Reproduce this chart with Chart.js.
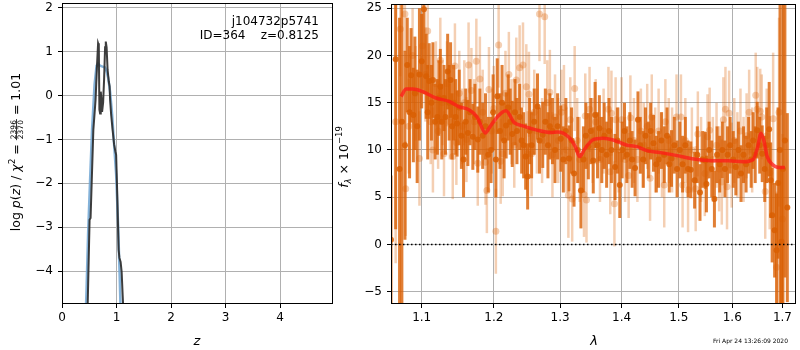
<!DOCTYPE html>
<html>
<head>
<meta charset="utf-8">
<script src="https://cdn.jsdelivr.net/npm/chart.js@4.4.0/dist/chart.umd.min.js"></script>
<style>
  body { margin: 0; background: #fff; }
  #wrap { position: relative; width: 800px; height: 350px; }
  #pz { position: absolute; left: 0; top: 0; }
  #sp { position: absolute; left: 330px; top: 0; }
</style>
</head>
<body>
<div id="wrap">
  <canvas id="pz" width="340" height="350"></canvas>
  <canvas id="sp" width="470" height="350"></canvas>
</div>
<script>
// ---- data ----
// left panel: log p(z)
const zTicks = [0, 1, 2, 3, 4];
const lnpTicks = [-4, -3, -2, -1, 0, 1, 2];

const pzSmoothZ   = [0.432, 0.45, 0.478, 0.515, 0.551, 0.597, 0.634, 0.662, 0.699, 0.744, 0.79, 0.818, 0.846, 0.882, 0.919, 0.956, 0.993, 1.029, 1.057, 1.075];
const pzSmoothVal = [-5.11, -4.43, -3.17, -1.92, -0.78, 0.25, 0.68, 0.73, 0.68, 0.66, 0.64, 0.55, 0.41, 0.09, -0.43, -1.12, -1.80, -2.95, -4.09, -4.89];

const pzChi2Z   = [0.469, 0.506, 0.524, 0.575, 0.616, 0.643, 0.662, 0.675, 0.686, 0.699, 0.711, 0.723, 0.735, 0.754, 0.772, 0.79, 0.803, 0.818, 0.836, 0.858, 0.873, 0.882, 0.901, 0.928, 0.956, 0.98, 0.993, 1.011, 1.039, 1.053, 1.075, 1.094, 1.112, 1.13];
const pzChi2Val = [-4.89, -2.83, -2.79, -0.78, -0.09, 0.71, 1.19, 1.14, -0.32, -0.41, 0.09, -0.09, -0.37, -0.16, 0.37, 1.10, 1.23, 1.10, 0.59, 0.32, 0.21, -0.09, -0.43, -0.78, -1.12, -1.28, -1.35, -2.15, -3.52, -3.70, -3.79, -4.02, -4.54, -5.0];

// right panel: spectrum, [lambda, flux, err]
const lamTicks = [1.1, 1.2, 1.3, 1.4, 1.5, 1.6, 1.7];
const fluxTicks = [-5, 0, 5, 10, 15, 20, 25];

const darkSpec = [
  [1.060,0.5,6.8],[1.066,19.6,18],[1.071,8,16],[1.074,13,20],[1.078,10.5,10],[1.081,19,5],[1.084,14,7],
  [1.086,17.9,5],[1.089,13.7,5],[1.091,16,6],[1.094,12.5,6],[1.097,18,7],[1.100,19.4,5],[1.103,24.9,9],
  [1.106,17.8,4.5],[1.108,14,5],[1.110,17.3,4],[1.113,15,4],[1.115,17.4,4],[1.118,13,4],[1.121,13.5,4],
  [1.123,15.5,4],[1.125,16.7,4],[1.127,13,4],[1.130,15.5,3.5],[1.132,13.5,4],[1.135,18.3,4],[1.137,15,4],
  [1.139,17.4,4],[1.141,12.5,3.5],[1.143,15,4],[1.146,13.5,4],[1.148,12.8,3.5],[1.151,14.5,4],[1.154,11.5,3.5],
  [1.157,9,4],[1.160,13,3.5],[1.163,11.8,3.5],[1.166,14,3.5],[1.170,11.4,3.5],[1.173,13.5,3.5],[1.177,11.1,3.5],
  [1.180,13,3.5],[1.184,11.5,3.5],[1.188,12.5,3.5],[1.192,9.5,4],[1.196,10,3.5],[1.199,14,4],[1.203,9,4],
  [1.205,15.7,4],[1.209,12,4],[1.212,15,4],[1.215,11,4],[1.218,12.6,3.5],[1.221,14.5,3.5],[1.224,13,3.5],
  [1.227,11.7,3.5],[1.231,14,3.5],[1.234,12,3.5],[1.238,13.5,3.5],[1.241,11,3.5],[1.244,10.5,3.5],[1.247,9.3,3.5],
  [1.250,7.2,3.5],[1.253,12,3.5],[1.256,10.5,3.5],[1.260,13,3.5],[1.265,14.6,3.5],[1.268,11,3.5],[1.273,11.6,3.5],
  [1.277,13,3.5],[1.281,10.5,3.5],[1.284,12.5,3.5],[1.288,12,3.5],[1.292,10,3.5],[1.296,12.5,3.5],[1.301,11.2,3.5],
  [1.305,9,3.5],[1.309,12,3.5],[1.314,9.1,3.5],[1.318,11,3.5],[1.322,7.5,3.5],[1.328,10,3.5],[1.333,5.7,4],
  [1.337,9,3.5],[1.341,11.5,3.5],[1.345,10.4,3.5],[1.349,12,3.5],[1.353,8.9,3.5],[1.356,13.7,3.5],[1.360,10.5,3.5],
  [1.363,12.3,3.5],[1.367,10,3.5],[1.371,11.5,3.5],[1.375,9.5,3.5],[1.379,12,3.5],[1.383,10,3.5],[1.389,8.2,3.5],
  [1.393,11,3.5],[1.397,6.3,3.5],[1.401,10,3],[1.405,12,3],[1.409,9.5,3],[1.414,11,3],[1.418,9,3],
  [1.423,8.1,3],[1.428,13.2,3],[1.432,10.5,3],[1.437,9,3],[1.441,11.5,3],[1.446,10,3],[1.450,12,3],
  [1.455,10.7,3],[1.460,8.5,3],[1.464,9,3],[1.469,11,3],[1.474,9.5,3],[1.479,11.5,3],[1.483,8.5,3],
  [1.487,9.1,3],[1.492,10.5,3],[1.497,8,3],[1.502,10,3],[1.507,8.5,3],[1.512,10.5,3],[1.517,8,3],
  [1.522,7.9,3],[1.529,6.8,3],[1.534,9.5,3],[1.539,5.5,3],[1.544,9,3],[1.549,8.9,3],[1.551,6.4,3],
  [1.556,10,3],[1.561,8,3],[1.566,4.8,3],[1.571,9.5,3],[1.576,8.5,3],[1.581,10,3],[1.586,8,3],
  [1.591,9.5,3],[1.596,10.5,3],[1.602,9,3],[1.607,8.2,3],[1.612,10,3],[1.617,7.5,3],[1.622,9.5,3],
  [1.627,8.5,3],[1.632,10.5,3],[1.637,9,3],[1.641,11,3],[1.645,9.5,3],[1.649,12.1,3],[1.654,10.5,3],
  [1.659,9.6,3],[1.664,8,3.5],[1.668,10.5,4],[1.673,12.2,5],[1.676,6.8,4],[1.679,3.1,5],[1.684,1.5,5],
  [1.688,-0.6,6],[1.691,6.5,8],[1.695,10,20],[1.698,0.3,8],[1.701,8,25],[1.705,11,14.5],[1.710,3.9,10]
];

const lightSpec = [
  [1.066,13,15],[1.072,22.8,5],[1.078,24.4,4],[1.079,5.9,5],[1.083,12.5,5],[1.088,20,5],[1.092,16,5],
  [1.097,9.1,5],[1.101,21,4.5],[1.105,18,5],[1.108,22.6,4],[1.112,13,4.5],[1.115,10,4.5],[1.119,17,4.5],
  [1.122,12,4],[1.125,19.5,4.5],[1.128,15,4.5],[1.130,9.6,4.5],[1.134,17,4.5],[1.138,13,4],[1.142,9.3,4.5],
  [1.145,18.9,4.5],[1.147,10.8,4.5],[1.151,16,4.5],[1.155,12.5,4],[1.158,15,4.5],[1.161,11.1,4.5],[1.164,19,4.5],
  [1.168,16.3,4.5],[1.172,13,4.5],[1.175,19.4,4.5],[1.177,8.6,4.5],[1.180,17.5,4.5],[1.184,14,4.5],[1.188,8.7,4.5],
  [1.190,5.7,4.5],[1.193,16.4,4.5],[1.197,12,4.5],[1.200,14.4,4.5],[1.203,1.4,4.5],[1.207,21.1,4.5],[1.210,8.8,4.5],
  [1.213,9.6,4.5],[1.217,16,4.5],[1.222,18,4.5],[1.226,13,4.5],[1.230,10.5,4.5],[1.233,17.4,4.5],[1.238,18.7,4.5],
  [1.243,19,4.5],[1.248,16.7,4.5],[1.250,9.6,4.5],[1.252,15.9,4.5],[1.256,9.6,4.5],[1.260,14,4.5],[1.264,12,4.5],
  [1.268,24.4,5],[1.272,11,4.5],[1.276,24.1,5],[1.280,15,4.5],[1.284,16.1,4.5],[1.288,9.5,4.5],[1.292,13.5,4.5],
  [1.297,11,4.5],[1.302,14,4.5],[1.306,14.5,4.5],[1.310,10,4.5],[1.313,5.2,4.5],[1.316,13.2,4.5],[1.319,4.8,4.5],
  [1.323,16.5,4.5],[1.327,11,4.5],[1.331,9,4.5],[1.338,5.3,4.5],[1.340,13.6,4.5],[1.342,4.7,4.5],[1.347,14.3,4.5],
  [1.352,11,4.5],[1.357,13,4.5],[1.364,9,4.5],[1.370,12,4.5],[1.378,14.3,4.5],[1.381,7.7,4.5],[1.383,13.9,4.5],
  [1.388,4.3,4.5],[1.390,13.2,4.5],[1.395,10,4.5],[1.400,13.2,4.5],[1.406,9,4.5],[1.412,7.3,4.5],[1.415,13.4,4.5],
  [1.421,11,4.5],[1.427,9,4.5],[1.433,12,4.5],[1.438,10.5,4.5],[1.444,12.5,4.5],[1.449,7,4.5],[1.452,13.5,4.5],
  [1.458,10,4.5],[1.464,12,4.5],[1.470,9.5,4.5],[1.474,6.3,4.5],[1.476,13,4.5],[1.482,11,4.5],[1.488,10,4.5],
  [1.496,13.5,4.5],[1.504,13.5,4.5],[1.507,6.3,4.5],[1.512,11,4.5],[1.517,5.8,4.5],[1.524,10,4.5],[1.531,5.9,4.5],
  [1.535,11.7,4.5],[1.541,9,4.5],[1.548,7.5,4.5],[1.553,11.4,4.5],[1.557,12.1,4.5],[1.563,9,4.5],[1.570,10.5,4.5],
  [1.575,8,4.5],[1.580,6.6,4.5],[1.583,13.2,4.5],[1.587,14.3,4.5],[1.590,6.1,4.5],[1.594,13.9,4.5],[1.599,8.4,4.5],
  [1.604,11,4.5],[1.610,9.5,4.5],[1.616,12,4.5],[1.622,9,4.5],[1.628,11.5,4.5],[1.633,14,4.5],[1.639,10,4.5],
  [1.646,15.8,4.5],[1.649,14.3,4.5],[1.655,14.1,4.5],[1.658,13.5,4.5],[1.665,5.6,5],[1.668,11.5,5],[1.674,7.6,6],
  [1.681,13.3,7],[1.688,-2.4,8],[1.693,14,10],[1.700,2.7,9]
];

const modelLam  = [1.073, 1.0796, 1.088, 1.1006, 1.119, 1.137, 1.150, 1.1645, 1.176, 1.188, 1.193, 1.205, 1.2176, 1.230, 1.243, 1.264, 1.286, 1.296, 1.313, 1.324, 1.331, 1.338, 1.352, 1.369, 1.386, 1.408, 1.426, 1.4435, 1.467, 1.497, 1.528, 1.560, 1.592, 1.621, 1.641, 1.650, 1.6565, 1.662, 1.669, 1.679, 1.693, 1.705];
const modelFlux = [15.67, 16.45, 16.45, 16.2, 15.5, 15.14, 14.6, 14.26, 13.5, 11.8, 12.3, 13.5, 14.15, 12.9, 12.55, 12.1, 11.84, 11.9, 11.4, 10.35, 9.3, 10.0, 11.06, 11.24, 11.06, 10.53, 10.35, 9.93, 9.72, 9.4, 9.04, 8.86, 8.86, 8.76, 9.0, 10.35, 11.78, 11.06, 9.3, 8.5, 8.15, 8.15];

const zeroLam = [1.06, 1.728];
const zeroFlux = [0, 0];

// ---- helpers ----
const FONT = "'DejaVu Sans'";
Chart.defaults.font.family = FONT;
Chart.defaults.font.size = 12;
Chart.defaults.color = '#000';

const minus = v => String(v).replace('-', '\u2212');
const pts = (xs, ys) => xs.map((x, i) => ({x, y: ys[i]}));

// draw a run of text pieces rotated by -90deg, centred on cy, baseline at bx
function drawVertical(ctx, parts, bx, cy) {
  ctx.save();
  ctx.translate(bx, cy);
  ctx.rotate(-Math.PI / 2);
  let total = 0;
  parts.forEach(p => {
    ctx.font = p.font;
    p.w = p.frac ? Math.max(ctx.measureText(p.frac[0]).width, ctx.measureText(p.frac[1]).width) + 2
                 : ctx.measureText(p.t).width;
    total += p.w;
  });
  let x = -total / 2;
  ctx.fillStyle = '#000';
  ctx.textBaseline = 'alphabetic';
  parts.forEach(p => {
    ctx.font = p.font;
    if (p.frac) {
      ctx.textAlign = 'center';
      ctx.fillText(p.frac[0], x + p.w / 2, -4.5);
      ctx.fillText(p.frac[1], x + p.w / 2, 3);
      ctx.fillRect(x, -3.9, p.w, 0.8);
      ctx.textAlign = 'left';
    } else {
      ctx.textAlign = 'left';
      ctx.fillText(p.t, x, p.dy || 0);
    }
    x += p.w;
  });
  ctx.restore();
}

const frame = {
  id: 'frame',
  afterDraw(chart) {
    const {ctx, chartArea: a} = chart;
    ctx.save();
    ctx.strokeStyle = '#000';
    ctx.lineWidth = 1;
    ctx.strokeRect(a.left + 0.5, a.top + 0.5, a.right - a.left - 1, a.bottom - a.top - 1);
    ctx.restore();
  }
};

const errorBars = {
  id: 'errorBars',
  beforeDatasetDraw(chart, args) {
    const ds = chart.data.datasets[args.index];
    if (!ds.errs) return;
    const {ctx, chartArea: a, scales} = chart;
    ctx.save();
    ctx.beginPath();
    ctx.rect(a.left, a.top, a.right - a.left, a.bottom - a.top);
    ctx.clip();
    ctx.strokeStyle = ds.errColor;
    ctx.lineWidth = ds.errWidth;
    ds.data.forEach((p, i) => {
      const px = scales.x.getPixelForValue(p.x);
      ctx.beginPath();
      ctx.moveTo(px, scales.y.getPixelForValue(p.y - ds.errs[i]));
      ctx.lineTo(px, scales.y.getPixelForValue(p.y + ds.errs[i]));
      ctx.stroke();
    });
    ctx.restore();
  }
};

const gridOpts = {color: '#b0b0b0', lineWidth: 1, tickColor: '#000', tickLength: 4, drawTicks: true};
// keep tick labels from pushing the plot area around
const fitX = s => { s.height = 46; s.paddingLeft = 0; s.paddingRight = 0; };
const fitY = w => s => { s.width = w; s.paddingTop = 0; s.paddingBottom = 0; };

// ---- left: p(z) ----
const pzText = {
  id: 'pzText',
  afterDraw(chart) {
    const ctx = chart.ctx;
    ctx.save();
    ctx.fillStyle = '#000';
    ctx.font = '12px ' + FONT;
    ctx.textAlign = 'right';
    ctx.fillText('j104732p5741', 319, 25);
    ctx.fillText('ID=364    z=0.8125', 319, 39);
    ctx.textAlign = 'center';
    ctx.font = 'italic 13px ' + FONT;
    ctx.fillText('z', 197, 345);
    ctx.restore();
    const r = '12.5px ' + FONT, it = 'italic 12.5px ' + FONT;
    drawVertical(ctx, [
      {t: 'log ', font: r}, {t: 'p', font: it}, {t: '(', font: r}, {t: 'z', font: it},
      {t: ') / ', font: r}, {t: '\u03c7', font: it}, {t: '2', font: '9px ' + FONT, dy: -5.5},
      {t: ' = ', font: r}, {frac: ['2396', '2370'], font: '7.5px ' + FONT}, {t: ' = 1.01', font: r}
    ], 20, 152);
  }
};

new Chart(document.getElementById('pz'), {
  type: 'line',
  data: {
    datasets: [
      {data: pts(pzChi2Z, pzChi2Val), borderColor: 'rgba(45,45,45,0.92)', borderWidth: 2, pointRadius: 0, clip: 0},
      {data: pts(pzSmoothZ, pzSmoothVal), borderColor: 'rgba(110,165,210,0.85)', borderWidth: 2.5, pointRadius: 0, clip: 0}
    ]
  },
  options: {
    responsive: false, animation: false, devicePixelRatio: 1,
    layout: {padding: {top: 3, right: 7, bottom: 0, left: 0}},
    plugins: {legend: {display: false}, tooltip: {enabled: false}},
    scales: {
      x: {
        type: 'linear', min: 0, max: 4.97,
        afterBuildTicks: s => { s.ticks = zTicks.map(v => ({value: v})); },
        afterFit: fitX,
        grid: gridOpts, border: {display: false},
        ticks: {padding: 3, maxRotation: 0, callback: v => minus(v)}
      },
      y: {
        type: 'linear', min: -4.75, max: 2.11,
        afterBuildTicks: s => { s.ticks = lnpTicks.map(v => ({value: v})); },
        afterFit: fitY(62),
        grid: gridOpts, border: {display: false},
        ticks: {padding: 5, callback: v => minus(v)}
      }
    }
  },
  plugins: [frame, pzText]
});

// ---- right: spectrum ----
const spText = {
  id: 'spText',
  afterDraw(chart) {
    const ctx = chart.ctx;
    ctx.save();
    ctx.fillStyle = '#000';
    ctx.textAlign = 'center';
    ctx.font = 'italic 13px ' + FONT;
    ctx.fillText('\u03bb', 264, 345);
    ctx.font = '6px ' + FONT;
    ctx.textAlign = 'right';
    ctx.fillText('Fri Apr 24 13:26:09 2020', 458, 343);
    ctx.restore();
    const r = '12.5px ' + FONT;
    drawVertical(ctx, [
      {t: 'f', font: 'italic 12.5px ' + FONT}, {t: '\u03bb', font: 'italic 8.5px ' + FONT, dy: 3},
      {t: ' \u00d7 10', font: r}, {t: '\u221219', font: '8.5px ' + FONT, dy: -6}
    ], 18, 157);
  }
};

new Chart(document.getElementById('sp'), {
  type: 'scatter',
  data: {
    datasets: [
      {type: 'line', data: pts(modelLam, modelFlux), borderColor: 'rgba(255,25,25,0.75)', borderWidth: 3.5,
       pointRadius: 0, cubicInterpolationMode: 'monotone', clip: 0},
      {type: 'line', data: pts(zeroLam, zeroFlux), borderColor: '#000', borderWidth: 1.5,
       borderDash: [1.5, 2.5], pointRadius: 0, clip: 0},
      {data: darkSpec.map(r => ({x: r[0], y: r[1]})), errs: darkSpec.map(r => r[2]),
       errColor: 'rgba(217,95,2,0.8)', errWidth: 3,
       pointRadius: 3, pointBackgroundColor: 'rgba(217,95,2,0.85)', pointBorderWidth: 0, clip: 0},
      {data: lightSpec.map(r => ({x: r[0], y: r[1]})), errs: lightSpec.map(r => r[2]),
       errColor: 'rgba(217,95,2,0.3)', errWidth: 2.5,
       pointRadius: 3.5, pointBackgroundColor: 'rgba(217,95,2,0.3)', pointBorderWidth: 0, clip: 0}
    ]
  },
  options: {
    responsive: false, animation: false, devicePixelRatio: 1,
    layout: {padding: {top: 3, right: 2, bottom: 0, left: 0}},
    plugins: {legend: {display: false}, tooltip: {enabled: false}},
    scales: {
      x: {
        type: 'logarithmic', min: 1.06, max: 1.728,
        afterBuildTicks: s => { s.ticks = lamTicks.map(v => ({value: v})); },
        afterFit: fitX,
        grid: gridOpts, border: {display: false},
        ticks: {padding: 3, maxRotation: 0, autoSkip: false, callback: v => Number(v).toFixed(1)}
      },
      y: {
        type: 'linear', min: -6.3, max: 25.45,
        afterBuildTicks: s => { s.ticks = fluxTicks.map(v => ({value: v})); },
        afterFit: fitY(61),
        grid: gridOpts, border: {display: false},
        ticks: {padding: 5, callback: v => minus(v)}
      }
    }
  },
  plugins: [errorBars, frame, spText]
});
</script>
</body>
</html>
